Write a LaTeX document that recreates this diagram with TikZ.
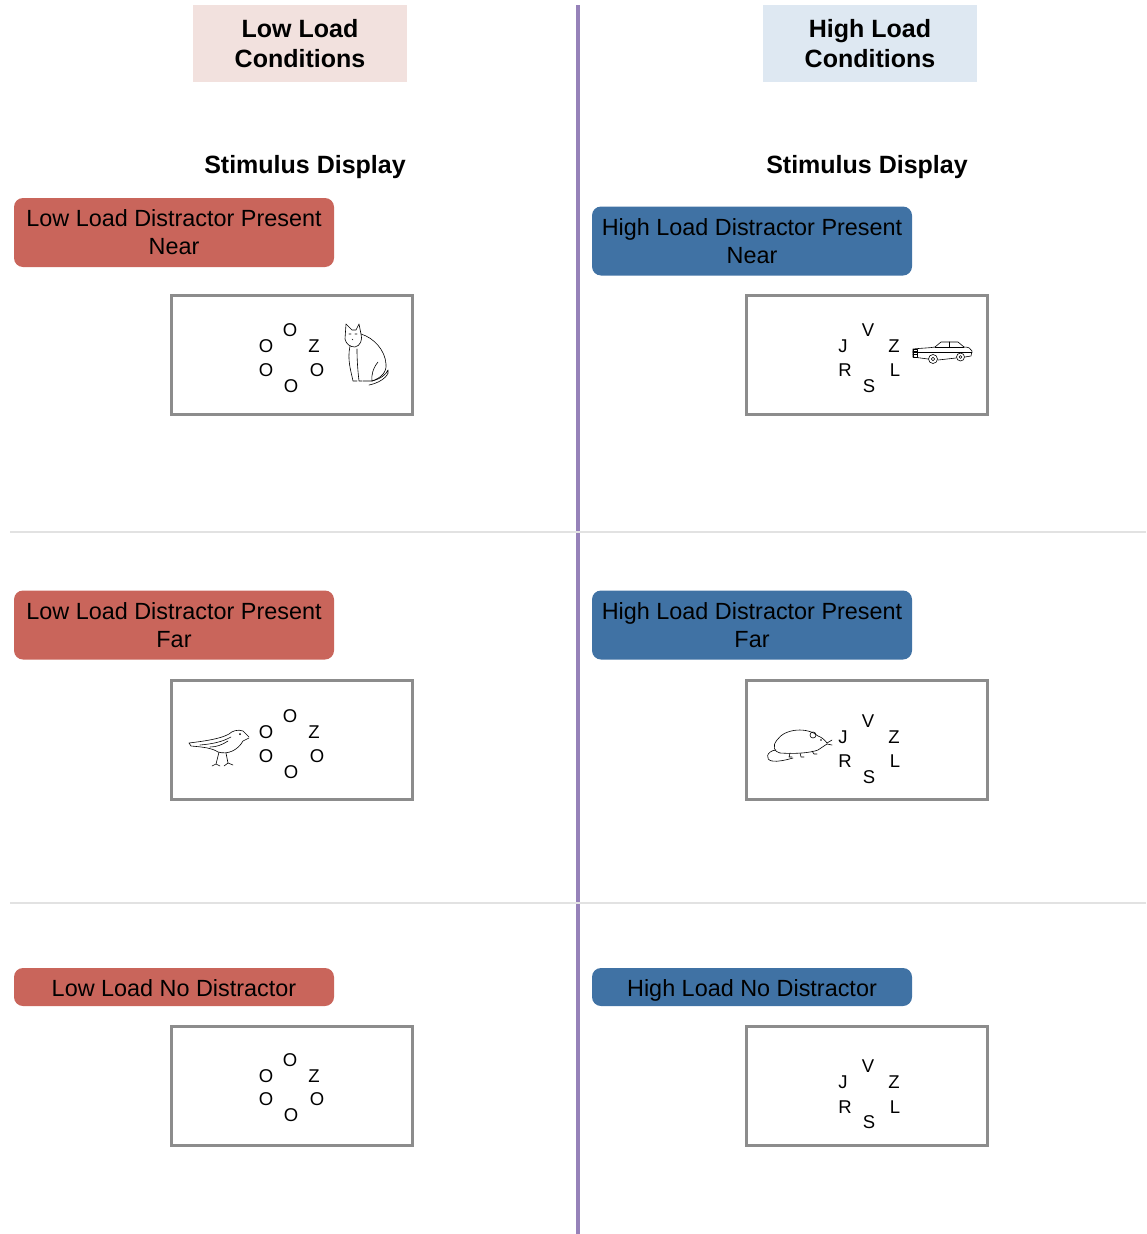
\documentclass[tikz,border=0pt]{standalone}
\usepackage{fontspec}
\setmainfont{Liberation Sans}
\usetikzlibrary{positioning, calc}

\definecolor{lowred}{RGB}{201,101,91}
\definecolor{highblue}{RGB}{64,114,164}
\definecolor{lowpink}{RGB}{242,225,222}
\definecolor{highpale}{RGB}{222,232,242}
\definecolor{midline}{RGB}{150,130,185}
\definecolor{rowline}{RGB}{226,226,226}
\definecolor{dispgray}{RGB}{140,140,140}

\begin{document}
\begin{tikzpicture}
  [
  x=1pt, y=-1pt,
  % header boxes
  headbox/.style = {rectangle, minimum width=214, minimum height=77,
    align=center, font=\bfseries\fontsize{25}{30}\selectfont},
  title/.style = {font=\bfseries\fontsize{25}{30}\selectfont},
  % condition labels
  condlab/.style = {rectangle, rounded corners=9, minimum width=320,
    align=center, font=\fontsize{23.4}{28}\selectfont},
  lowlab/.style = {condlab, fill=lowred},
  highlab/.style = {condlab, fill=highblue},
  % one line labels
  shortlab/.style = {minimum height=38, text height=18, text depth=0},
  % stimulus screens
  disp/.style = {rectangle, draw=dispgray, line width=3,
    minimum width=241, minimum height=119},
  lett/.style = {inner sep=0, font=\fontsize{18.5}{18}\selectfont},
  sketch/.style = {draw, line width=0.6, line join=round, line cap=round},
  ]
  \useasboundingbox (0,0) rectangle (1146,1234);

  % dividers
  \draw [midline, line width=4] (578,5) -- (578,1234);
  \draw [rowline, line width=2] (10,532) -- (1146,532);
  \draw [rowline, line width=2] (10,903) -- (1146,903);

  % headers
  \node [headbox, fill=lowpink] (lowhead) at (300,43.5) {Low Load\\Conditions};
  \node [headbox, fill=highpale] (highhead) at (870,43.5) {High Load\\Conditions};
  \node [title] (lowstim) at (305,167) {Stimulus Display};
  \node [title] (highstim) at (867,167) {Stimulus Display};

  % condition labels
  \node [lowlab, minimum height=69] (lnear) at (174,232.5) {Low Load Distractor Present\\Near};
  \node [lowlab, minimum height=69] (lfar) at (174,625) {Low Load Distractor Present\\Far};
  \node [lowlab, shortlab] (lnone) at (174,987) {Low Load No Distractor};
  \node [highlab, minimum height=69] (hnear) at (752,241) {High Load Distractor Present\\Near};
  \node [highlab, minimum height=69] (hfar) at (752,625) {High Load Distractor Present\\Far};
  \node [highlab, shortlab] (hnone) at (752,987) {High Load No Distractor};

  % screens
  \node [disp] (dlnear) at (292,355) {};
  \node [disp] (dlfar) at (292,740) {};
  \node [disp] (dlnone) at (292,1086) {};
  \node [disp] (dhnear) at (867,355) {};
  \node [disp] (dhfar) at (867,740) {};
  \node [disp] (dhnone) at (867,1086) {};

  % low load letter rings
  \node [lett] (ln1) at (290,330) {O};
  \node [lett] (ln2) at (266,346) {O};
  \node [lett] (ln3) at (314,346) {Z};
  \node [lett] (ln4) at (266,370) {O};
  \node [lett] (ln5) at (317,370) {O};
  \node [lett] (ln6) at (291,386) {O};
  \node [lett] (lf1) at (290,716) {O};
  \node [lett] (lf2) at (266,732) {O};
  \node [lett] (lf3) at (314,732) {Z};
  \node [lett] (lf4) at (266,756) {O};
  \node [lett] (lf5) at (317,756) {O};
  \node [lett] (lf6) at (291,772) {O};
  \node [lett] (lo1) at (290,1060) {O};
  \node [lett] (lo2) at (266,1076) {O};
  \node [lett] (lo3) at (314,1076) {Z};
  \node [lett] (lo4) at (266,1099) {O};
  \node [lett] (lo5) at (317,1099) {O};
  \node [lett] (lo6) at (291,1115) {O};

  % high load letter rings
  \node [lett] (hn1) at (868,330) {V};
  \node [lett] (hn2) at (843,346) {J};
  \node [lett] (hn3) at (894,346) {Z};
  \node [lett] (hn4) at (845,370) {R};
  \node [lett] (hn5) at (895,370) {L};
  \node [lett] (hn6) at (869,386) {S};
  \node [lett] (hf1) at (868,721) {V};
  \node [lett] (hf2) at (843,737) {J};
  \node [lett] (hf3) at (894,737) {Z};
  \node [lett] (hf4) at (845,761) {R};
  \node [lett] (hf5) at (895,761) {L};
  \node [lett] (hf6) at (869,777) {S};
  \node [lett] (ho1) at (868,1066) {V};
  \node [lett] (ho2) at (843,1082) {J};
  \node [lett] (ho3) at (894,1082) {Z};
  \node [lett] (ho4) at (845,1107) {R};
  \node [lett] (ho5) at (895,1107) {L};
  \node [lett] (ho6) at (869,1122) {S};

  % cat
  \path [sketch] (345,339) -- (346,324) -- (352,330) -- (356,330) -- (359,324)
    -- (361,334) .. controls (363,340) and (360,346) .. (355,347)
    .. controls (350,347) and (346,344) .. (345,339);
  \path [sketch] (349,334) -- (351,334) (355,334) -- (357,334) (352,339) -- (353,340);
  \path [sketch] (350,346) .. controls (347,360) and (351,371) .. (353,381) -- (357,381);
  \path [sketch] (357,349) .. controls (357,362) and (358,372) .. (359,381) -- (362,381);
  \path [sketch] (361,334) .. controls (374,338) and (385,350) .. (386,364)
    .. controls (387,372) and (381,378) .. (372,381) -- (363,381);
  \path [sketch] (378,362) .. controls (373,368) and (371,376) .. (372,381);
  \path [sketch] (372,381) .. controls (380,379) and (386,375) .. (388,370)
    .. controls (390,373) and (384,382) .. (369,385);

  % car
  \path [sketch] (913,357) -- (913,349) .. controls (922,348) and (930,348) .. (935,347)
    -- (941,342) -- (958,342) -- (964,347) .. controls (968,347) and (971,348) .. (972,351)
    -- (971,356) -- (965,357);
  \path [sketch] (913,357) -- (928,359) (938,360) -- (956,358);
  \path [sketch] (935,347) -- (964,347) (949,342) -- (949,347) (913,352) -- (972,352);
  \path [sketch] (913,349) rectangle (917,357) (913,351.5) -- (917,351.5) (913,354) -- (917,354);
  \path [sketch] (933,359) circle [radius=4.5] (933,359) circle [radius=1.8];
  \path [sketch] (960.5,357) circle [radius=4] (960.5,357) circle [radius=1.5];

  % bird
  \path [sketch] (249,737) -- (243,731) .. controls (238,729) and (232,731) .. (229,734)
    .. controls (220,739) and (205,741) .. (189,743) -- (191,746)
    .. controls (203,747) and (212,748) .. (218,752)
    .. controls (228,755) and (238,750) .. (243,741) -- (249,738);
  \path [sketch] (231,737) .. controls (222,742) and (212,744) .. (200,745);
  \path [sketch] (228,741) .. controls (222,745) and (216,747) .. (210,747);
  \fill (240,734) circle [radius=1];
  \path [sketch] (219,752) -- (216,764) -- (212,766) (216,764) -- (220,766);
  \path [sketch] (226,753) -- (228,763) -- (224,766) (228,763) -- (233,765);

  % rat
  \path [sketch] (827,743) .. controls (824,739) and (821,737) .. (818,736)
    .. controls (808,727) and (785,728) .. (777,740)
    .. controls (772,746) and (774,752) .. (780,753)
    .. controls (795,754) and (810,753) .. (818,750) -- (827,744);
  \path [sketch] (813,735) circle [radius=3];
  \fill (821,740) circle [radius=0.8];
  \path [sketch] (776,750) .. controls (766,751) and (765,760) .. (772,761)
    .. controls (778,762) and (786,760) .. (793,758);
  \path [sketch] (790,753) -- (789,757) -- (792,757) (800,753) -- (801,757) -- (804,757)
    (812,751) -- (814,754) -- (817,754);
  \path [sketch] (827,743) -- (832,740) (827,744) -- (832,745);

\end{tikzpicture}
\end{document}
